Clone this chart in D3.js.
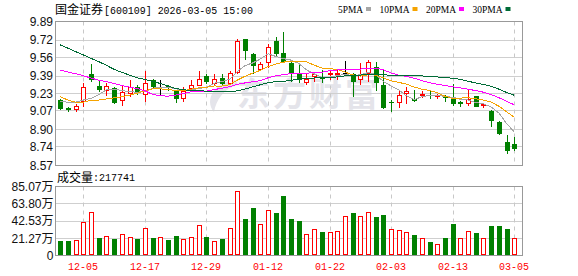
<!DOCTYPE html>
<html>
<head>
<meta charset="utf-8">
<script src="https://cdn.jsdelivr.net/npm/d3@7"></script>
<style>
  body { margin: 0; background: #fff; }
  svg { display: block; }
  text { font-family: "Liberation Sans", "Noto Sans CJK SC", sans-serif; }
  .cjk { font-family: "Noto Sans CJK SC", sans-serif; }
  .mono { font-family: "Liberation Mono", monospace; }
  .serif { font-family: "Liberation Serif", serif; }
</style>
</head>
<body>
<div id="chart"></div>
<script>
const dates = ['12-02','12-03','12-04','12-05','12-08','12-09','12-10','12-11','12-12','12-15',
  '12-16','12-17','12-18','12-19','12-22','12-23','12-24','12-25','12-26','12-29',
  '12-30','12-31','01-05','01-06','01-07','01-08','01-09','01-12','01-13','01-14',
  '01-15','01-16','01-19','01-20','01-21','01-22','01-23','01-26','01-27','01-28',
  '01-29','01-30','02-02','02-03','02-04','02-05','02-06','02-09','02-10','02-11',
  '02-12','02-13','02-24','02-25','02-26','02-27','03-02','03-03','03-04','03-05'];

const open = [9.17,9.10,9.08,9.15,9.41,9.30,9.25,9.28,9.16,9.23, 9.29,9.22,9.35,9.29,9.30,9.25,9.18,9.27,9.30,9.39,
  9.32,9.37,9.32,9.42,9.73,9.59,9.45,9.51,9.71,9.60, 9.51,9.42,9.33,9.38,9.37,9.41,9.41,9.42,9.41,9.35,
  9.41,9.47,9.31,9.15,9.14,9.23,9.18,9.21,9.22,9.21, 9.21,9.19,9.15,9.13,9.21,9.12,9.07,8.97,8.79,8.77];
const high = [9.18,9.11,9.13,9.33,9.50,9.35,9.33,9.29,9.31,9.35, 9.31,9.44,9.36,9.35,9.31,9.26,9.29,9.35,9.44,9.41,
  9.41,9.41,9.44,9.73,9.73,9.60,9.52,9.68,9.75,9.79, 9.52,9.50,9.41,9.43,9.45,9.45,9.45,9.53,9.42,9.51,
  9.54,9.52,9.45,9.17,9.26,9.29,9.26,9.25,9.25,9.23, 9.22,9.32,9.16,9.26,9.21,9.14,9.08,8.98,8.85,8.83];
const low = [9.08,9.06,9.06,9.11,9.34,9.24,9.21,9.13,9.12,9.20, 9.22,9.15,9.28,9.22,9.25,9.14,9.15,9.26,9.30,9.32,
  9.31,9.30,9.31,9.41,9.54,9.41,9.44,9.46,9.57,9.52, 9.34,9.33,9.31,9.34,9.33,9.35,9.35,9.41,9.20,9.31,
  9.34,9.25,9.09,9.06,9.10,9.13,9.15,9.19,9.18,9.18, 9.15,9.12,9.11,9.12,9.11,9.10,8.92,8.85,8.68,8.70];
const close = [9.09,9.08,9.12,9.29,9.35,9.26,9.30,9.14,9.24,9.29, 9.24,9.33,9.29,9.29,9.28,9.18,9.25,9.31,9.36,9.34,
  9.36,9.32,9.42,9.71,9.62,9.48,9.50,9.66,9.59,9.52, 9.41,9.35,9.36,9.41,9.36,9.42,9.42,9.42,9.34,9.41,
  9.52,9.33,9.10,9.14,9.22,9.25,9.16,9.23,9.21,9.22, 9.19,9.13,9.13,9.18,9.11,9.13,8.98,8.86,8.70,8.72];
const volume = [178000,178000,195000,419000,531000,220000,245000,199000,270000,233000,
  199000,345000,212000,233000,187000,237000,208000,233000,370000,224000,
  174000,199000,345000,793000,448000,585000,386000,556000,527000,735000,
  448000,423000,262000,324000,291000,286000,307000,482000,527000,482000,
  531000,473000,498000,332000,320000,295000,249000,220000,166000,145000,
  212000,390000,212000,307000,274000,212000,361000,361000,324000,217741];

const ma5 = [9.16,9.15,9.15,9.17,9.186,9.220,9.264,9.268,9.258,9.246, 9.242,9.248,9.278,9.288,9.286,9.274,9.258,9.262,9.276,9.288,
  9.324,9.338,9.360,9.430,9.486,9.510,9.546,9.594,9.570,9.550, 9.536,9.506,9.446,9.410,9.378,9.380,9.394,9.406,9.392,9.402,
  9.422,9.404,9.340,9.300,9.262,9.208,9.174,9.200,9.214,9.214, 9.202,9.196,9.176,9.170,9.148,9.136,9.106,9.052,8.956,8.878];
const ma10 = [9.20,9.17,9.15,9.15,9.17,9.17,9.18,9.19,9.20,9.216, 9.231,9.256,9.273,9.273,9.266,9.258,9.253,9.270,9.282,9.287,
  9.299,9.298,9.311,9.353,9.387,9.417,9.442,9.477,9.500,9.518, 9.523,9.526,9.520,9.490,9.464,9.458,9.450,9.426,9.401,9.390,
  9.401,9.399,9.373,9.346,9.332,9.315,9.289,9.270,9.257,9.238, 9.205,9.185,9.188,9.192,9.181,9.169,9.151,9.114,9.063,9.013];
const ma20 = [9.445,9.427,9.411,9.393,9.371,9.353,9.338,9.322,9.304,9.288, 9.276,9.255,9.221,9.209,9.206,9.215,9.230,9.245,9.250,9.252,
  9.266,9.278,9.293,9.314,9.327,9.338,9.348,9.374,9.392,9.403, 9.412,9.413,9.416,9.422,9.426,9.438,9.446,9.452,9.451,9.454,
  9.462,9.463,9.447,9.418,9.398,9.387,9.370,9.348,9.329,9.314, 9.303,9.292,9.281,9.269,9.257,9.242,9.220,9.192,9.160,9.126];
const ma30 = [9.675,9.645,9.614,9.583,9.552,9.522,9.488,9.451,9.424,9.399, 9.374,9.359,9.340,9.322,9.298,9.276,9.264,9.258,9.255,9.252,
  9.248,9.245,9.245,9.255,9.270,9.291,9.310,9.328,9.340,9.341, 9.351,9.360,9.368,9.372,9.373,9.378,9.382,9.391,9.395,9.399,
  9.408,9.408,9.402,9.397,9.394,9.397,9.394,9.391,9.386,9.382, 9.376,9.370,9.360,9.343,9.326,9.314,9.297,9.270,9.240,9.214];

const maNames = ['5PMA', '10PMA', '20PMA', '30PMA'];
const maColors = ['#a6a6a6', '#f5a300', '#ff00ff', '#006b36'];
const priceTicks = [9.89, 9.72, 9.56, 9.39, 9.23, 9.07, 8.90, 8.74, 8.57];
const volTicks = [0, 212700, 425300, 638000, 850700];
const volTickLabels = ['0', '21.27万', '42.53万', '63.80万', '85.07万'];
const dateTicks = ['12-05', '12-17', '12-29', '01-12', '01-22', '02-03', '02-13', '03-05'];

(function() {
  const width = 578, height = 276;
  const left = 55.5, right = 522.5,
    pTop = 21.5, pBot = 165.5,
    vTop = 186.5, vBot = 255.5;

  const RED = '#ff0000', GREEN = '#008000';

  const svg = d3.select('#chart')
    .append('svg')
      .attr('width', width)
      .attr('height', height);

  const x = d3.scalePoint()
    .domain(dates)
    .range([60.3, 514.2]);

  const y = d3.scaleLinear()
    .domain([8.57, 9.89])
    .range([pBot, pTop]);

  const yv = d3.scaleLinear()
    .domain([0, 850700])
    .range([vBot, vTop]);

  const cx = d => Math.round(x(d));
  const snap = v => Math.round(v - 0.5) + 0.5;

  const bars = dates.map((d, i) => ({
    date: d, o: open[i], h: high[i], l: low[i], c: close[i], v: volume[i],
    prev: i ? close[i - 1] : open[i]
  }));

  /* watermark */
  const wm = svg.append('g').attr('fill', '#e4e4ea');
  wm.append('path')
    .attr('d', 'M236,80 C214,82 204,100 214,112 C216,100 224,88 238,85 Z');
  wm.append('text')
    .attr('class', 'cjk')
    .attr('x', 237)
    .attr('y', 106)
    .attr('font-size', 33)
    .attr('font-weight', 'bold')
    .attr('letter-spacing', 3)
    .text('东方财富');

  /* horizontal grid */
  const grid = svg.append('g');
  grid.selectAll('.pgrid')
    .data(priceTicks)
    .enter().append('line')
      .attr('x1', left).attr('x2', right)
      .attr('y1', d => snap(y(d))).attr('y2', d => snap(y(d)))
      .attr('stroke', '#cfcfcf');

  grid.selectAll('.vgrid')
    .data(volTicks)
    .enter().append('line')
      .attr('x1', left).attr('x2', right)
      .attr('y1', d => snap(yv(d))).attr('y2', d => snap(yv(d)))
      .attr('stroke', '#cfcfcf');

  /* vertical dashed grid */
  [[pTop, pBot], [vTop, vBot]].forEach(([t, b]) => {
    grid.selectAll(null)
      .data(dateTicks)
      .enter().append('line')
        .attr('x1', d => cx(d) + 0.5).attr('x2', d => cx(d) + 0.5)
        .attr('y1', t).attr('y2', b)
        .attr('stroke', '#c8c8c8')
        .attr('stroke-dasharray', '4,4');
  });

  /* candles */
  const candle = svg.append('g').selectAll('g')
    .data(bars)
    .enter().append('g');

  candle.each(function(d) {
    const g = d3.select(this);
    const c = cx(d.date);
    const col = d.c > d.o ? RED : d.c < d.o ? GREEN : '#000';
    const top = Math.round(y(Math.max(d.o, d.c)));
    const bot = Math.round(y(Math.min(d.o, d.c)));
    const yh = Math.round(y(d.h)), yl = Math.round(y(d.l));

    if (d.c > d.o) {
      g.append('line').attr('x1', c + 0.5).attr('x2', c + 0.5)
        .attr('y1', yh).attr('y2', top).attr('stroke', col);
      g.append('line').attr('x1', c + 0.5).attr('x2', c + 0.5)
        .attr('y1', bot).attr('y2', yl).attr('stroke', col);
      g.append('rect')
        .attr('x', c - 1.5).attr('width', 4)
        .attr('y', top + 0.5).attr('height', Math.max(1, bot - top - 1))
        .attr('fill', '#fff').attr('stroke', col);
    } else {
      g.append('line').attr('x1', c + 0.5).attr('x2', c + 0.5)
        .attr('y1', yh).attr('y2', yl).attr('stroke', col);
      g.append('rect')
        .attr('x', c - 2).attr('width', 5)
        .attr('y', top).attr('height', Math.max(1, bot - top))
        .attr('fill', col);
    }
  });

  /* moving averages */
  const line = d3.line()
    .x((d, i) => x(dates[i]))
    .y(d => y(d));

  svg.append('g').selectAll('path')
    .data([ma5, ma10, ma20, ma30])
    .enter().append('path')
      .attr('d', line)
      .attr('fill', 'none')
      .attr('stroke', (d, i) => maColors[i])
      .attr('stroke-width', 1)
      .style('shape-rendering', 'crispEdges');

  /* volume */
  svg.append('g').selectAll('rect')
    .data(bars)
    .enter().append('rect')
      .each(function(d) {
        const c = cx(d.date);
        const t = Math.round(yv(d.v));
        const r = d3.select(this);
        if (d.c >= d.prev) {
          r.attr('x', c - 1.5).attr('width', 4)
            .attr('y', t + 0.5).attr('height', vBot - 1 - (t + 0.5))
            .attr('fill', '#fff').attr('stroke', RED);
        } else {
          r.attr('x', c - 2).attr('width', 5)
            .attr('y', t).attr('height', vBot - t)
            .attr('fill', GREEN);
        }
      });

  /* panel borders */
  [[pTop, pBot], [vTop, vBot]].forEach(([t, b]) => {
    svg.append('rect')
      .attr('x', left).attr('y', t)
      .attr('width', right - left).attr('height', b - t)
      .attr('fill', 'none')
      .attr('stroke', '#999');
  });

  /* y labels */
  svg.append('g').selectAll('text')
    .data(priceTicks)
    .enter().append('text')
      .attr('x', 53)
      .attr('y', d => y(d))
      .attr('dy', '0.36em')
      .attr('text-anchor', 'end')
      .attr('font-size', 12)
      .attr('fill', '#111')
      .text(d => d.toFixed(2));

  svg.append('g').selectAll('text')
    .data(volTicks)
    .enter().append('text')
      .attr('x', 53.5)
      .attr('y', d => yv(d))
      .attr('dy', '0.36em')
      .attr('text-anchor', 'end')
      .attr('font-size', 12)
      .attr('fill', '#111')
      .text((d, i) => volTickLabels[i]);

  /* x labels */
  svg.append('g').selectAll('text')
    .data(dateTicks)
    .enter().append('text')
      .attr('class', 'mono')
      .attr('x', d => cx(d) - 15)
      .attr('y', 270)
      .attr('font-size', 11)
      .attr('textLength', 30)
      .attr('lengthAdjust', 'spacingAndGlyphs')
      .attr('fill', RED)
      .text(d => d);

  /* header */
  svg.append('text')
    .attr('class', 'cjk')
    .attr('x', 55).attr('y', 14)
    .attr('font-size', 12)
    .text('国金证券');
  svg.append('text')
    .attr('class', 'mono')
    .attr('x', 104).attr('y', 13.5)
    .attr('font-size', 11)
    .attr('textLength', 149)
    .attr('lengthAdjust', 'spacingAndGlyphs')
    .text('[600109] 2026-03-05 15:00');

  svg.append('text')
    .attr('class', 'cjk')
    .attr('x', 57).attr('y', 181.5)
    .attr('font-size', 12)
    .text('成交量');
  svg.append('text')
    .attr('class', 'mono')
    .attr('x', 93).attr('y', 181)
    .attr('font-size', 11)
    .attr('textLength', 42)
    .attr('lengthAdjust', 'spacingAndGlyphs')
    .text(':' + volume[volume.length - 1]);

  /* legend */
  let lx = 338;
  maNames.forEach((name, i) => {
    const w = name.length === 4 ? 25 : 30;
    svg.append('text')
      .attr('class', 'serif')
      .attr('x', lx).attr('y', 12.5)
      .attr('font-size', 11)
      .attr('textLength', w)
      .attr('lengthAdjust', 'spacingAndGlyphs')
      .text(name);
    svg.append('rect')
      .attr('x', lx + w + 3).attr('y', 7)
      .attr('width', 5).attr('height', 4)
      .attr('fill', maColors[i]);
    lx += w + 3 + 5 + 8.5;
  });
})();
</script>
</body>
</html>
